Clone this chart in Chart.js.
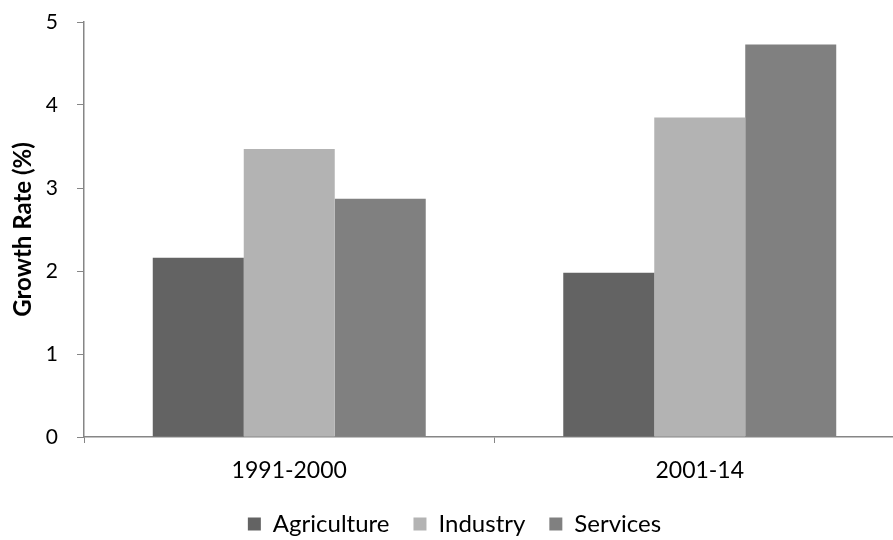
<!DOCTYPE html>
<html>
<head>
<meta charset="utf-8">
<script src="https://cdn.jsdelivr.net/npm/chart.js@4"></script>
<style>
  html, body { margin: 0; padding: 0; background: #fff; overflow: hidden; }
  #wrap { width: 905px; height: 540px; }
</style>
</head>
<body>
<div id="wrap"><canvas id="barChart" width="905" height="540"></canvas></div>
<script>
"use strict"

// data
const periods = ['1991-2000', '2001-14'];
const agriculture = [2.16, 1.98];
const industry = [3.47, 3.85];
const services = [2.87, 4.73];
const yTicks = [0, 1, 2, 3, 4, 5];

const fontName = "Lato, 'Open Sans', sans-serif";
const axisGray = '#868686';

const ctx = document.getElementById('barChart').getContext('2d');

new Chart(ctx, {
    type: 'bar',
    data: {
        labels: periods,
        datasets: [
            { label: 'Agriculture', data: agriculture, backgroundColor: '#636363' },
            { label: 'Industry', data: industry, backgroundColor: '#b3b3b3' },
            { label: 'Services', data: services, backgroundColor: '#808080' }
        ]
    },
    options: {
        responsive: false,
        animation: false,
        layout: { padding: { top: 0, right: 0, left: 4, bottom: -6 } },
        datasets: {
            bar: { barPercentage: 1, categoryPercentage: 0.665 }
        },
        plugins: {
            legend: {
                position: 'bottom',
                labels: {
                    color: '#000',
                    font: { family: fontName, size: 24 },
                    boxWidth: 13,
                    boxHeight: 13,
                    padding: 24
                }
            },
            tooltip: { enabled: false }
        },
        scales: {
            x: {
                afterFit: axis => { axis.height = 51; },
                grid: { display: true, drawOnChartArea: false, color: axisGray, tickLength: 6 },
                border: { color: axisGray, width: 1.5 },
                ticks: { color: '#000', font: { family: fontName, size: 23 }, padding: 14 }
            },
            y: {
                min: yTicks[0],
                max: yTicks[yTicks.length - 1],
                afterBuildTicks: axis => { axis.ticks = yTicks.map(v => ({ value: v })); },
                afterFit: axis => {
                    axis.width = 80;
                    axis.paddingTop = 22; // keep the "5" close to the top like the original
                },
                grid: { display: true, drawOnChartArea: false, color: axisGray, tickLength: 7 },
                border: { color: axisGray, width: 1.5 },
                ticks: { color: '#000', font: { family: fontName, size: 21 }, padding: 19 },
                title: {
                    display: true,
                    text: 'Growth Rate (%)',
                    color: '#000',
                    font: { family: fontName, size: 24, weight: 'bold' },
                    padding: { top: 5, bottom: 0 }
                }
            }
        }
    }
});
</script>
</body>
</html>
